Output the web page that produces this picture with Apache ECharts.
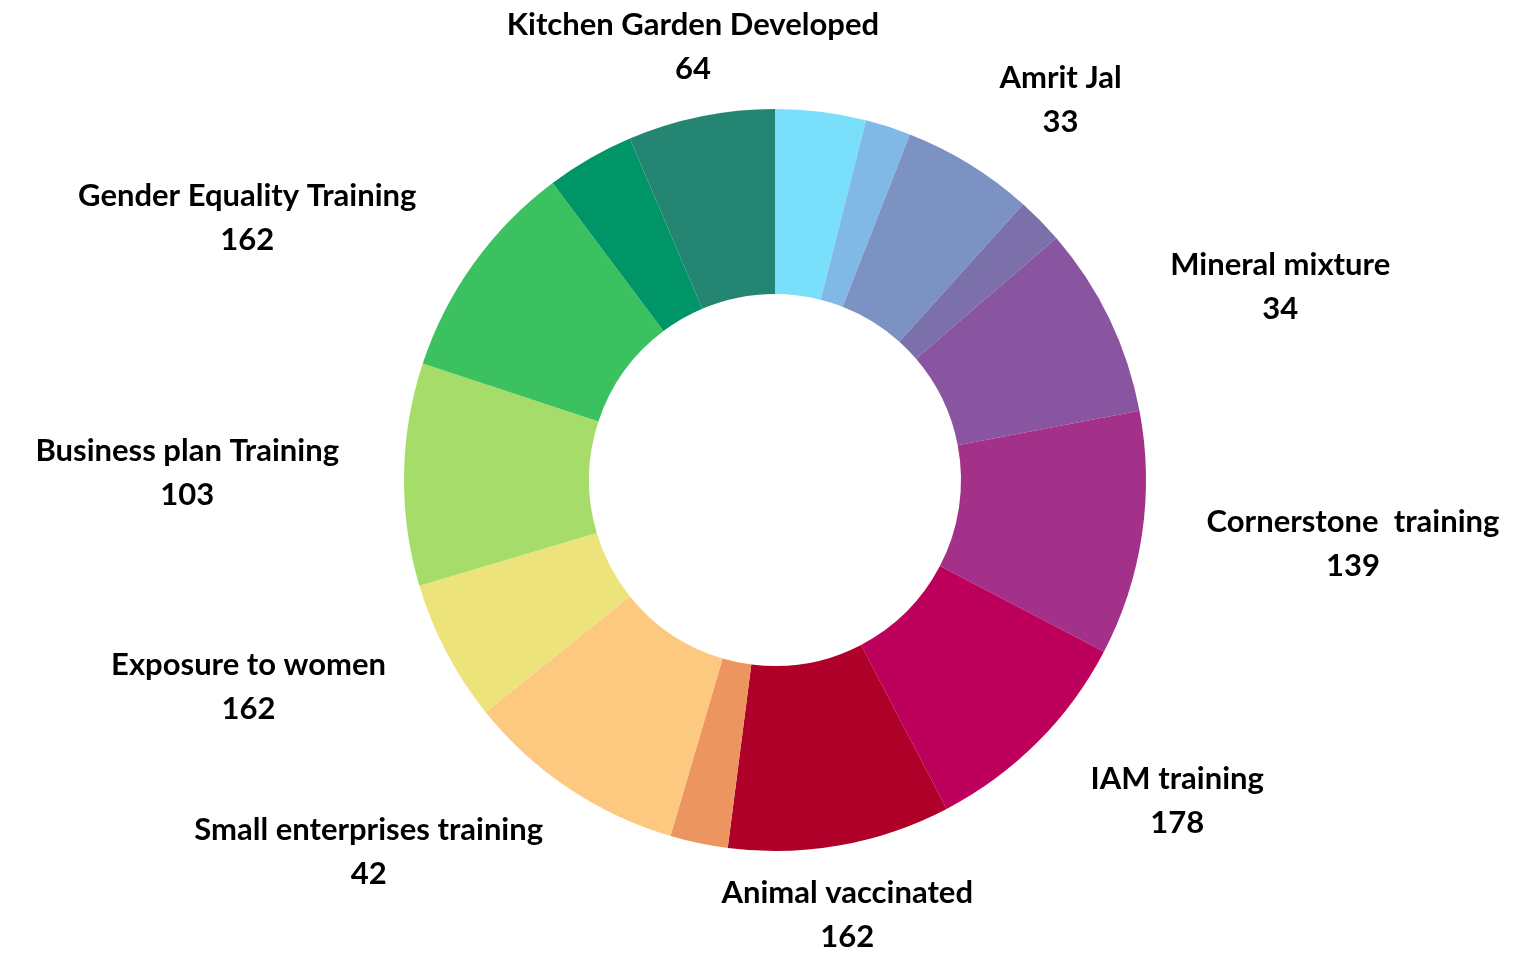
<!DOCTYPE html>
<html>
<head>
<meta charset="utf-8">
<title>Activities donut</title>
<script src="https://cdn.jsdelivr.net/npm/echarts@6/dist/echarts.min.js"></script>
<style>
  html, body { margin: 0; padding: 0; background: #ffffff; }
  #chart { width: 1526px; height: 955px; }
</style>
</head>
<body>
<div id="chart"></div>
<script>
// slices clockwise from 12 o'clock; names left blank where the picture shows none
const names = ['', 'Amrit Jal', '', 'Mineral mixture', 'Cornerstone  training', 'IAM training',
  'Animal vaccinated', '', 'Small enterprises training', 'Exposure to women',
  'Business plan Training', 'Gender Equality Training', '', 'Kitchen Garden Developed', ''];
const values = [66, 33, 96, 34, 139, 178, 162, 162, 42, 162, 103, 162, 162, 64, 107];
const colors = ['#79dffb', '#81b9e6', '#7b92c2', '#7b70a9', '#8a55a0', '#a33189', '#bc005c',
  '#ae0029', '#ec955f', '#fdc980', '#ede37b', '#a5dc6a', '#3bc160', '#009567', '#238572'];

const CX = 775, CY = 480;
const R_IN = 186, R_OUT = 371;
const LABEL_R = 411;

const n = values.length;
const total = values.reduce((a, b) => a + b, 0);
const cum = [];
values.reduce((acc, v, i) => { cum[i] = acc; return acc + v; }, 0);

// the label drawn on each slice carries the previous item's name and value
const prevIndex = (i) => (i + n - 1) % n;

const chart = echarts.init(document.getElementById('chart'));

chart.setOption({
  backgroundColor: '#ffffff',
  animation: false,
  series: [{
    type: 'pie',
    center: [CX, CY],
    radius: [R_IN, R_OUT],
    startAngle: 90,
    clockwise: true,
    avoidLabelOverlap: false,
    labelLine: { show: false },
    label: {
      show: true,
      position: 'outside',
      overflow: 'none',
      color: '#000000',
      fontFamily: 'Lato, "Open Sans", sans-serif',
      fontWeight: 'bold',
      fontSize: 31,
      lineHeight: 44,
      formatter: (p) => {
        const j = prevIndex(p.dataIndex);
        return names[j] + '\n' + values[j];
      }
    },
    labelLayout: (p) => {
      const i = p.dataIndex;
      const mid = (cum[i] + values[i] / 2) / total * 2 * Math.PI;
      const vx = Math.sin(mid), vy = -Math.cos(mid);
      const vs = 1 / Math.max(Math.abs(vx), Math.abs(vy));
      const hw = p.labelRect.width / 2;
      const k = Math.min(1, Math.max(0, (Math.abs(vx) - 0.2) / 0.4));
      return {
        x: CX + LABEL_R * vx + Math.sign(vx) * (hw + 25) * k,
        y: CY + LABEL_R * vy + 30 * vy * vs,
        align: 'center',
        verticalAlign: 'middle'
      };
    },
    emphasis: { disabled: true },
    data: values.map((v, i) => ({
      name: names[i],
      value: v,
      itemStyle: { color: colors[i] },
      label: { show: names[prevIndex(i)] !== '' }
    }))
  }]
});
</script>
</body>
</html>
